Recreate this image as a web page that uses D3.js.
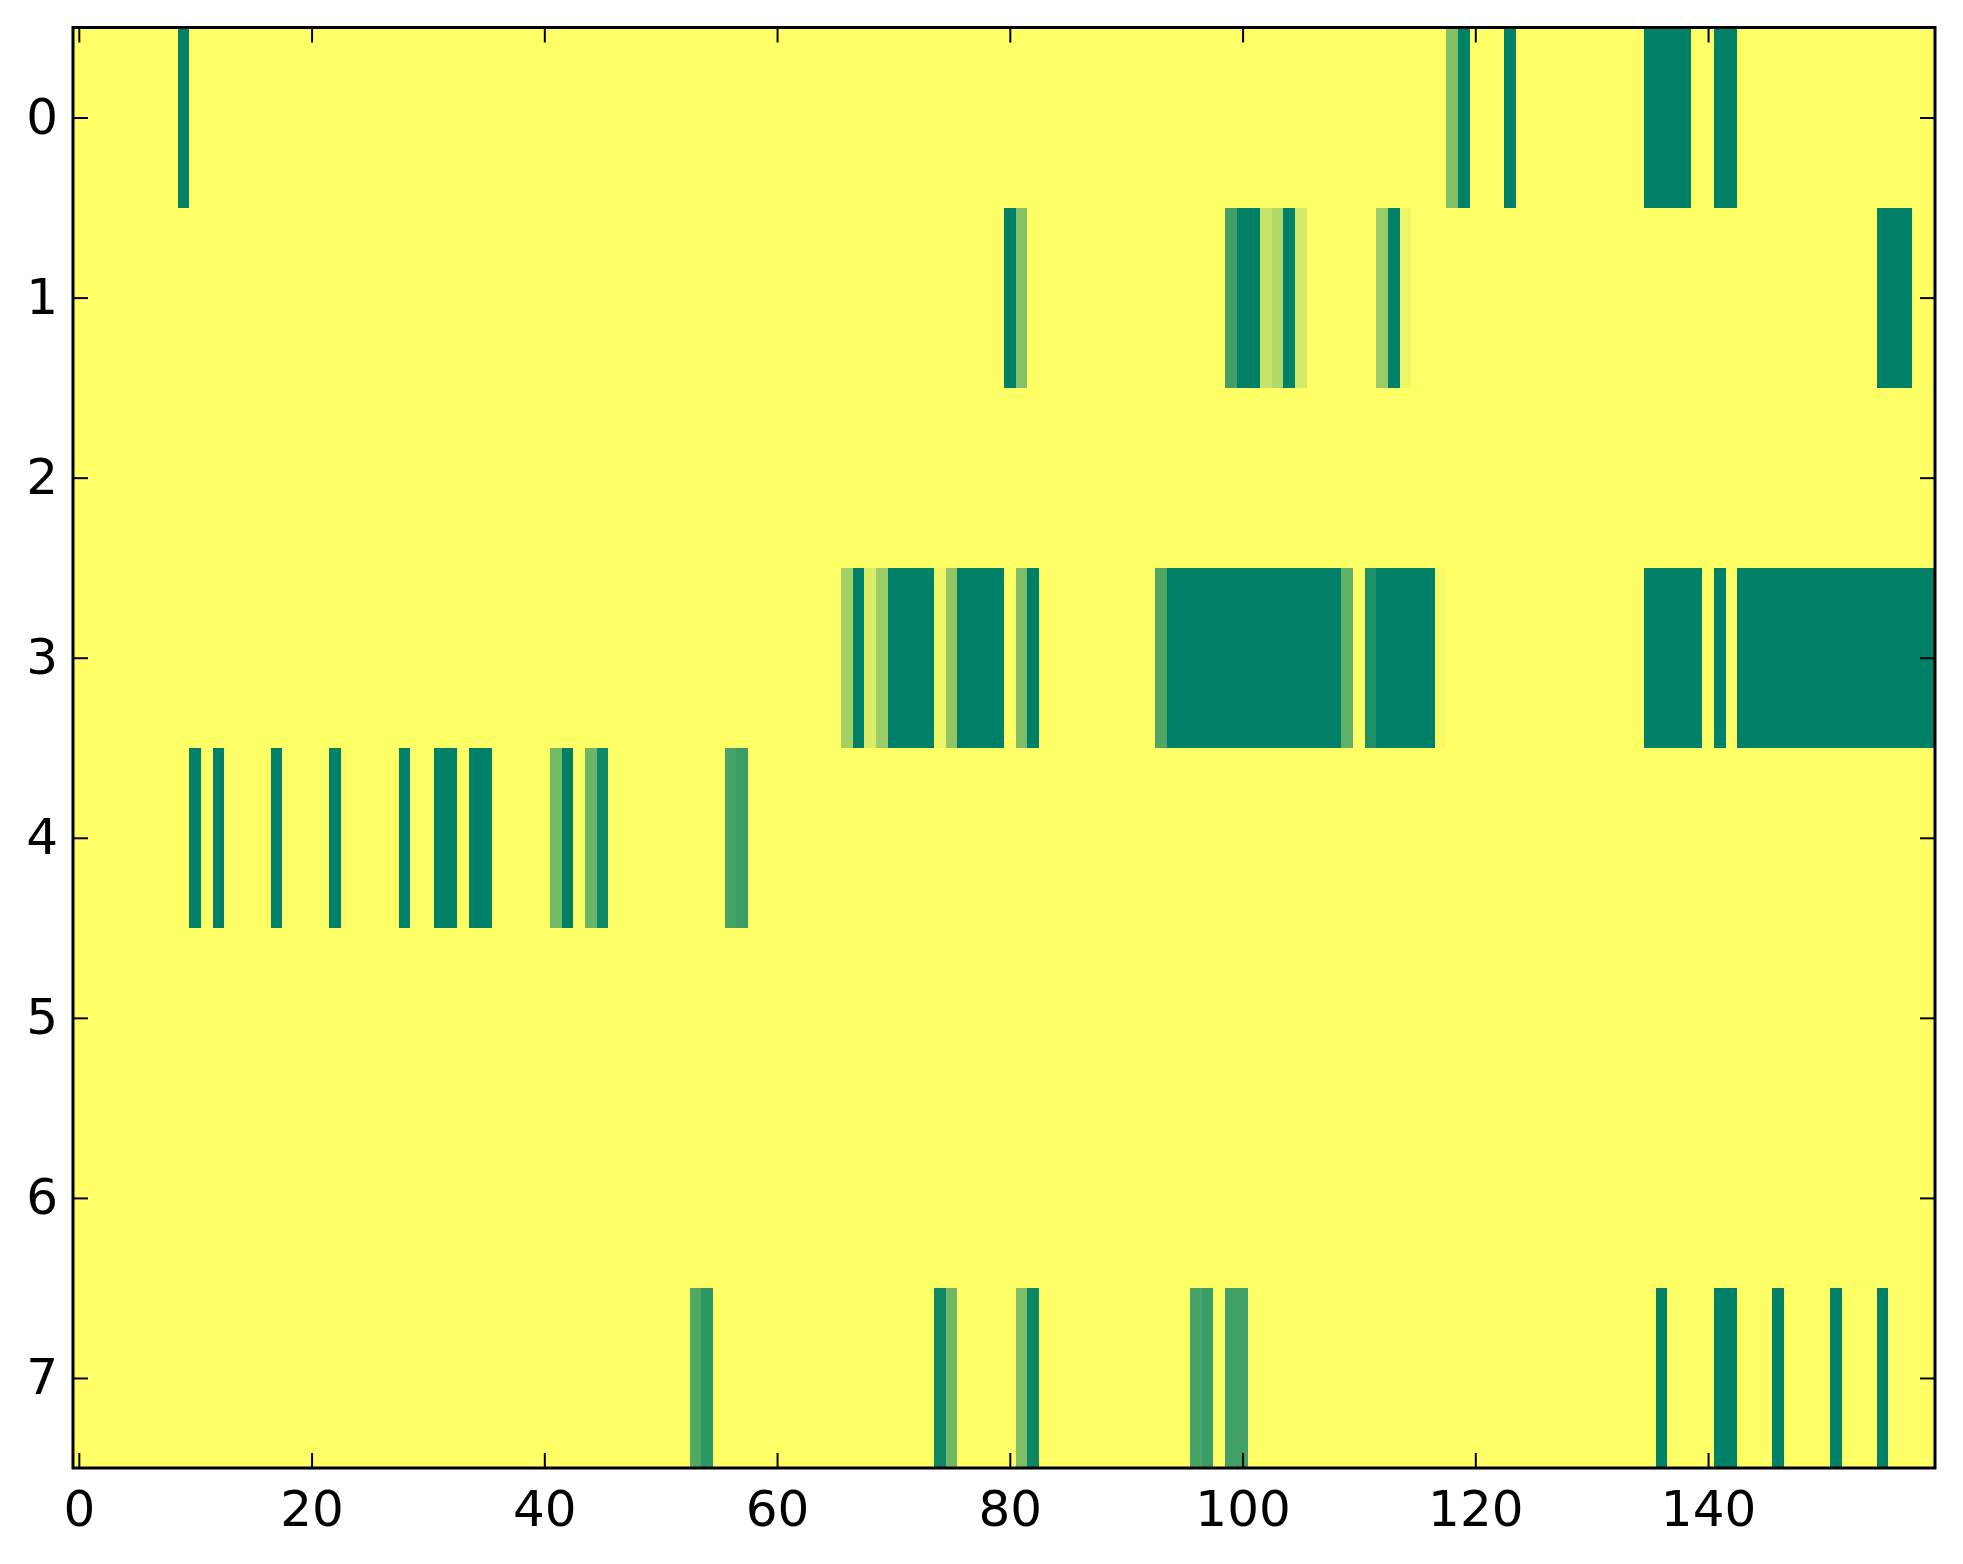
<!DOCTYPE html>
<html>
<head>
<meta charset="utf-8">
<script src="https://cdn.jsdelivr.net/npm/d3@7"></script>
<style>
    body { margin: 0; background: #fff; }
    .axis text { font-family: "DejaVu Sans", sans-serif; font-size: 50px; fill: #000; }
    .axis line { stroke: #000; stroke-width: 2; }
    .axis path { display: none; }
</style>
</head>
<body>
<svg id="svg1" width="1963" height="1564"></svg>
<script>
// nonzero cells per row as [column, value]; every other cell is 0
var row0 = [[9, 1], [118, 0.49], [119, 1], [123, 1], [135, 1], [136, 1], [137, 1], [138, 1],
    [141, 1], [142, 1]];
var row1 = [[80, 1], [81, 0.48], [99, 0.75], [100, 1], [101, 1], [102, 0.22], [103, 0.31],
    [104, 1], [105, 0.17], [112, 0.4], [113, 1], [114, 0.07], [155, 1], [156, 1], [157, 1]];
var row2 = [];
var row3 = [[66, 0.36], [67, 1], [68, 0.14], [69, 0.39], [70, 1], [71, 1], [72, 1], [73, 1],
    [74, 0.07], [75, 0.44], [76, 1], [77, 1], [78, 1], [79, 1], [81, 0.51], [82, 1], [93, 0.69],
    [94, 1], [95, 1], [96, 1], [97, 1], [98, 1], [99, 1], [100, 1], [101, 1], [102, 1], [103, 1],
    [104, 1], [105, 1], [106, 1], [107, 1], [108, 1], [109, 0.62], [111, 0.88], [112, 1], [113, 1],
    [114, 1], [115, 1], [116, 1], [117, 0.04], [135, 1], [136, 1], [137, 1], [138, 1], [139, 1],
    [141, 1], [143, 1], [144, 1], [145, 1], [146, 1], [147, 1], [148, 1], [149, 1], [150, 1],
    [151, 1], [152, 1], [153, 1], [154, 1], [155, 1], [156, 1], [157, 1], [158, 1], [159, 1]];
var row4 = [[10, 1], [12, 1], [17, 1], [22, 1], [28, 1], [31, 1], [32, 1], [34, 1], [35, 1],
    [41, 0.55], [42, 1], [44, 0.58], [45, 0.94], [56, 0.72], [57, 0.77]];
var row5 = [];
var row6 = [];
var row7 = [[53, 0.68], [54, 0.82], [74, 0.94], [75, 0.56], [81, 0.51], [82, 0.95], [96, 0.72],
    [97, 0.77], [99, 0.75], [100, 0.75], [136, 1], [141, 1], [142, 1], [146, 1], [151, 1], [155, 1]];

var nCols = 160;
var xTicks = [0, 20, 40, 60, 80, 100, 120, 140];
var yTicks = [0, 1, 2, 3, 4, 5, 6, 7];

var svg = d3.select('#svg1');
var plot = {l: 73, r: 1935, t: 27.5, b: 1468};

var xScale = d3.scaleLinear().domain([-0.5, nCols - 0.5]).range([plot.l, plot.r]);
var yScale = d3.scaleLinear().domain([-0.5, 7.5]).range([plot.t, plot.b]);
// summer_r: 0 -> yellow, 1 -> green
var colorScale = d3.scaleLinear().domain([0, 1]).range(['#ffff66', '#008066']);

var rows = [row0, row1, row2, row3, row4, row5, row6, row7];
var cells = [];
rows.forEach(function(row, r) {
    var full = d3.range(nCols).map(function() { return 0; });
    row.forEach(function(d) { full[d[0]] = d[1]; });
    full.forEach(function(v, c) {
        cells.push({row: r, col: c, value: v});
    });
});

svg.append('g').selectAll('.cell')
    .data(cells)
    .enter()
    .append('rect')
    .attr('class', 'cell')
    .attr('x', function(d) { return xScale(d.col - 0.5); })
    .attr('y', function(d) { return yScale(d.row - 0.5); })
    .attr('width', function(d) { return xScale(d.col + 0.5) - xScale(d.col - 0.5) + 0.3; })
    .attr('height', function(d) { return yScale(d.row + 0.5) - yScale(d.row - 0.5) + 0.3; })
    .style('fill', function(d) { return colorScale(d.value); })
    .style('shape-rendering', 'crispEdges');

var tick = 15;

svg.append('g')
    .attr('class', 'axis')
    .attr('transform', 'translate(' + [0, plot.b] + ')')
    .call(d3.axisBottom(xScale).tickValues(xTicks).tickSizeInner(-tick).tickSizeOuter(0).tickPadding(22));

svg.append('g')
    .attr('class', 'axis')
    .attr('transform', 'translate(' + [0, plot.t] + ')')
    .call(d3.axisTop(xScale).tickValues(xTicks).tickSizeInner(-tick).tickSizeOuter(0).tickFormat(''));

svg.append('g')
    .attr('class', 'axis')
    .attr('transform', 'translate(' + [plot.l, 0] + ')')
    .call(d3.axisLeft(yScale).tickValues(yTicks).tickSizeInner(-tick).tickSizeOuter(0).tickPadding(15));

svg.append('g')
    .attr('class', 'axis')
    .attr('transform', 'translate(' + [plot.r, 0] + ')')
    .call(d3.axisRight(yScale).tickValues(yTicks).tickSizeInner(-tick).tickSizeOuter(0).tickFormat(''));

svg.append('rect')
    .attr('x', plot.l)
    .attr('y', plot.t)
    .attr('width', plot.r - plot.l)
    .attr('height', plot.b - plot.t)
    .style('fill', 'none')
    .style('stroke', '#000')
    .style('stroke-width', 3);
</script>
</body>
</html>
